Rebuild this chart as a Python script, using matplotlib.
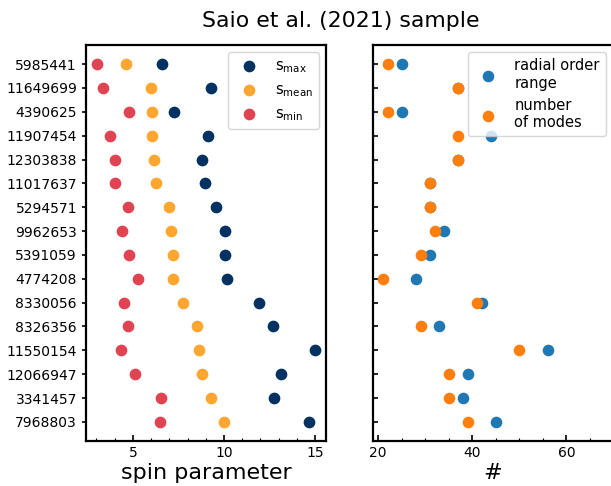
import matplotlib
matplotlib.use("Agg")
import matplotlib.pyplot as plt
import numpy as np
from matplotlib.ticker import AutoMinorLocator

# ── data (top row first) ─────────────────────────────────────────────────
kic_ids = ["5985441", "11649699", "4390625", "11907454", "12303838", "11017637",
           "5294571", "9962653", "5391059", "4774208", "8330056", "8326356",
           "11550154", "12066947", "3341457", "7968803"]
s_max = [6.6, 9.3, 7.25, 9.1, 8.8, 8.95, 9.55, 10.07, 10.08, 10.17,
         11.93, 12.7, 15.0, 13.14, 12.77, 14.67]
s_mean = [4.6, 5.98, 6.05, 6.05, 6.18, 6.27, 6.98, 7.11, 7.22, 7.23,
          7.78, 8.51, 8.62, 8.77, 9.28, 10.0]
s_min = [3.03, 3.36, 4.8, 3.74, 4.03, 4.03, 4.76, 4.38, 4.8, 5.29,
         4.49, 4.74, 4.34, 5.11, 6.54, 6.48]
radial_range = [25, 37, 25, 44, 37, 31, 31, 34, 31, 28, 42, 33, 56, 39, 38, 45]
n_modes = [22, 37, 22, 37, 37, 31, 31, 32, 29, 21, 41, 29, 50, 35, 35, 39]

C_MAX, C_MEAN, C_MIN = "#023262", "#ffa630", "#e04452"

# ── figure ───────────────────────────────────────────────────────────────
W, H = 611, 486
fig = plt.figure(figsize=(W / 100, H / 100), dpi=100)

ax1 = fig.add_axes([86 / W, 1 - 441 / H, 240 / W, 396 / H])
ax2 = fig.add_axes([373 / W, 1 - 441 / H, 240 / W, 396 / H])

y = np.arange(len(kic_ids))
ms = 55
ms_flat = 70  # no edge line, same apparent size

ax1.scatter(s_max, y, s=ms, color=C_MAX, label=r"s$_{\mathrm{max}}$", zorder=3)
ax1.scatter(s_mean, y, s=ms, color=C_MEAN, label=r"s$_{\mathrm{mean}}$", zorder=3)
ax1.scatter(s_min, y, s=ms, color=C_MIN, label=r"s$_{\mathrm{min}}$", zorder=3)

ax2.scatter(radial_range, y, s=ms_flat, color="tab:blue", linewidths=0,
            label="radial order\nrange", zorder=3)
ax2.scatter(n_modes, y, s=ms_flat, color="tab:orange", linewidths=0,
            label="number\nof modes", zorder=3)

for ax in (ax1, ax2):
    ax.set_ylim(len(kic_ids) - 0.2, -0.8)
    ax.set_yticks(y)
    for sp in ax.spines.values():
        sp.set_linewidth(1.6)
    ax.xaxis.set_minor_locator(AutoMinorLocator())
    ax.tick_params(axis="x", which="both", direction="in", labelsize=10)
    ax.tick_params(axis="x", which="major", length=4, width=1.2)
    ax.tick_params(axis="x", which="minor", length=2.5, width=0.8)

ax1.set_xlim(2.43, 15.6)
ax1.set_xticks([5, 10, 15])
ax1.set_yticklabels(kic_ids, fontsize=10)
ax1.tick_params(axis="y", direction="out", length=3, width=1.2)
ax1.set_xlabel("spin parameter", fontsize=16, labelpad=2)

ax2.set_xlim(18.9, 69.9)
ax2.set_xticks([20, 40, 60])
ax2.set_yticklabels([])
ax2.tick_params(axis="y", direction="in", length=3.5, width=1.2)
ax2.set_xlabel("#", fontsize=16, labelpad=2)

ax1.legend(loc="upper right", fontsize=10.5)
ax2.legend(loc="upper right", fontsize=10.5)

fig.text(0.558, 0.957, "Saio et al. (2021) sample", fontsize=15.8,
         ha="center", va="center")

fig.savefig("out.png", dpi=100)
